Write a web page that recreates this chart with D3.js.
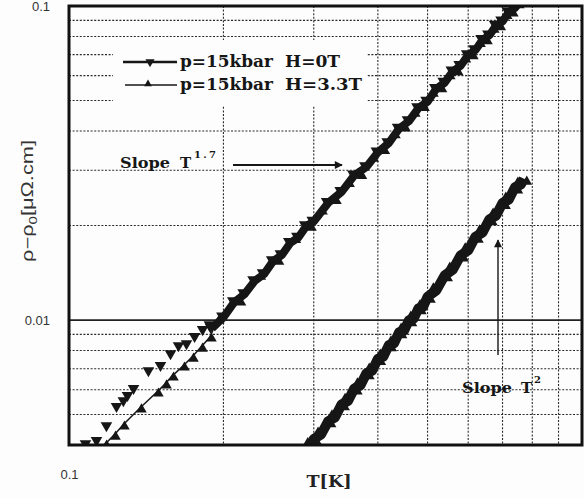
<!DOCTYPE html>
<html><head><meta charset="utf-8">
<script src="https://cdn.jsdelivr.net/npm/d3@7"></script>
<style>body{margin:0;background:#fff}</style>
</head><body><svg id="c" width="584" height="498"></svg>
<script>
// ---- data ----
const xTicks = [0.1];
const yTicks = [0.01, 0.1];
const gridX = [0.2, 0.3, 0.4, 0.5, 0.6, 0.7, 0.8, 0.9];
const gridY = [0.005, 0.006, 0.007, 0.008, 0.009, 0.02, 0.03, 0.04, 0.05, 0.06, 0.07, 0.08, 0.09];
const solidY = [0.01];

// p=15kbar H=0T (down triangles)
const tH0 = [0.1084,0.1139,0.1191,0.1246,0.1285,0.1309,0.1345,0.1438,0.1518,0.1588,0.1646,0.1706,0.1769,0.1834,0.1891,
  0.19,0.20,0.21,0.22,0.23,0.24,0.25,0.26,0.27,0.28,0.29,0.30,0.32,0.34,0.36,0.38,0.40,0.42,0.44,0.46,0.48,0.50,
  0.52,0.54,0.56,0.58,0.60,0.62,0.64,0.66,0.68,0.70,0.72,0.74,0.76];
const rH0 = [0.00400,0.00409,0.00456,0.00525,0.00548,0.00569,0.00599,0.00683,0.00709,0.00774,0.00820,0.00832,0.00877,0.00923,0.00957,
  0.0094,0.0102,0.0114,0.0121,0.0133,0.0140,0.0154,0.0161,0.0176,0.0183,0.0199,0.0206,0.0236,0.0256,0.0289,0.0307,0.0342,0.0366,0.0407,0.0430,0.0473,0.0496,
  0.0545,0.0570,0.0619,0.0645,0.0698,0.0724,0.0780,0.0807,0.0866,0.0893,0.0955,0.0985,0.104];

// p=15kbar H=3.3T (up triangles)
const tH33 = [0.1176,0.1224,0.1274,0.1375,0.1484,0.1539,0.1588,0.1668,0.1737,0.1809,0.1883,
  0.195,0.215,0.235,0.255,0.275,0.295,0.31,0.33,0.35,0.37,0.39,0.41,0.43,0.45,0.47,0.49,0.51,0.53,0.55,0.57,0.59,0.61,0.63,0.65,0.67,0.69,0.71,0.73,0.75];
const rH33 = [0.00403,0.00430,0.00463,0.00525,0.00590,0.00626,0.00663,0.00714,0.00762,0.00820,0.00883,
  0.0101,0.0115,0.0139,0.0155,0.0182,0.0199,0.0224,0.0242,0.0274,0.0291,0.0330,0.0349,0.0392,0.0412,0.0459,0.0479,0.0531,0.0549,0.0604,0.0622,0.0683,0.0700,0.0765,0.0781,0.0850,0.0866,0.0940,0.0957,0.1016];

// curve with slope T^2
const tQ = [0.296,0.30,0.31,0.32,0.33,0.34,0.35,0.36,0.37,0.38,0.39,0.40,0.41,0.42,0.43,0.44,0.45,0.46,0.47,0.48,0.49,0.50,
  0.52,0.54,0.56,0.58,0.60,0.62,0.64,0.66,0.68,0.70,0.72,0.74,0.76,0.77];
const rQ = [0.00400,0.00418,0.00432,0.00476,0.00490,0.00539,0.00553,0.00606,0.00620,0.00677,0.00690,0.00752,0.00765,0.00831,0.00843,0.00914,0.00925,0.00999,0.01011,0.01090,0.01100,0.01186,
  0.01243,0.01388,0.01447,0.01607,0.01666,0.01842,0.01901,0.02093,0.02151,0.02360,0.02418,0.02645,0.02701,0.02821];

const legendLabels = [["p=15kbar","H=0T"],["p=15kbar","H=3.3T"]];

// ---- drawing ----
const svg = d3.select("#c");
const L = 69, R = 582, TOP = 6, B = 445;
const x = d3.scaleLog().domain([0.1, 1]).range([L, R]);
const y = d3.scaleLog().domain([0.004, 0.1]).range([B, TOP]);
const ink = "#161616";

svg.append("rect").attr("width",584).attr("height",498).attr("fill","#fdfdfd");

const grid = svg.append("g").attr("stroke","#2a2a2a").attr("stroke-width",1.1).attr("stroke-dasharray","2,1.6");
grid.selectAll("line.gx").data(gridX).join("line").attr("class","gx")
  .attr("x1",d=>x(d)).attr("x2",d=>x(d)).attr("y1",TOP).attr("y2",B);
grid.selectAll("line.gy").data(gridY).join("line").attr("class","gy")
  .attr("x1",L).attr("x2",R).attr("y1",d=>y(d)).attr("y2",d=>y(d));
svg.selectAll("line.sy").data(solidY).join("line").attr("class","sy")
  .attr("x1",L).attr("x2",R).attr("y1",d=>y(d)).attr("y2",d=>y(d))
  .attr("stroke","#222").attr("stroke-width",1.8);

// legend background
svg.append("rect").attr("x",113).attr("y",40).attr("width",254).attr("height",66).attr("fill","#fdfdfd");

svg.append("clipPath").attr("id","clip").append("rect")
  .attr("x",L).attr("y",TOP).attr("width",R-L).attr("height",B-TOP);
const plot = svg.append("g").attr("clip-path","url(#clip)");

const line = d3.line().x(d=>x(d[0])).y(d=>y(d[1]));
const h0 = tH0.map((t,i)=>[t,rH0[i]]);
const h33 = tH33.map((t,i)=>[t,rH33[i]]);
const q = tQ.map((t,i)=>[t,rQ[i]]);

const down = d3.symbol().type(d3.symbolTriangle).size(58)();
const up = d3.symbol().type(d3.symbolTriangle).size(48)();
const legDown = d3.symbol().type(d3.symbolTriangle).size(36)();
const legUp = d3.symbol().type(d3.symbolTriangle).size(26)();

// T^2 curve
plot.append("path").datum(q).attr("d",line).attr("fill","none").attr("stroke",ink).attr("stroke-width",10).attr("stroke-linejoin","round");
plot.selectAll("path.q").data(q).join("path").attr("class","q").attr("d",up)
  .attr("transform",(d,i)=>`translate(${x(d[0])+(i%2?3:-3)},${y(d[1])+(i%2?3:-2)})`).attr("fill",ink);

// H=3.3T
plot.append("path").datum(h33).attr("d",line).attr("fill","none").attr("stroke",ink).attr("stroke-width",1.5);
plot.selectAll("path.m33").data(h33).join("path").attr("class","m33").attr("d",up)
  .attr("transform",d=>`translate(${x(d[0])+1.5},${y(d[1])+1.5})`).attr("fill",ink);

// H=0T
plot.append("path").datum(h0.filter(d=>d[0]>=0.19)).attr("d",line).attr("fill","none").attr("stroke",ink).attr("stroke-width",8).attr("stroke-linejoin","round");
plot.selectAll("path.m0").data(h0).join("path").attr("class","m0").attr("d",down)
  .attr("transform",d=>`translate(${x(d[0])-1.5},${y(d[1])-1.5}) rotate(180)`).attr("fill",ink);

// frame
svg.append("rect").attr("x",L).attr("y",TOP).attr("width",R-L).attr("height",B-TOP)
  .attr("fill","none").attr("stroke","#111").attr("stroke-width",3);

// axes tick labels
const yAx = svg.append("g").attr("transform",`translate(${L},0)`)
  .call(d3.axisLeft(y).tickValues(yTicks).tickSize(0).tickPadding(19).tickFormat(d=>d===0.1?"0.1":"0.01"));
const xAx = svg.append("g").attr("transform",`translate(0,${B})`)
  .call(d3.axisBottom(x).tickValues(xTicks).tickSize(0).tickPadding(25).tickFormat(()=> "0.1"));
[yAx,xAx].forEach(a=>{a.select(".domain").remove();
  a.selectAll("text").attr("font-family","Liberation Sans, Arial, sans-serif").attr("font-size",13).attr("fill","#333");});

// axis titles
const serif = "DejaVu Serif, serif";
svg.append("text").attr("x",329).attr("y",487).attr("text-anchor","middle")
  .attr("font-family",serif).attr("font-weight","bold").attr("font-size",16).attr("fill","#222")
  .attr("textLength",45).attr("lengthAdjust","spacingAndGlyphs").text("T[K]");
const yl = svg.append("text").attr("transform","translate(33,140) rotate(-90)").attr("text-anchor","end")
  .attr("font-family","Liberation Sans, Arial, sans-serif").attr("font-size",16).attr("fill","#333")
  .attr("textLength",122).attr("lengthAdjust","spacingAndGlyphs");
yl.append("tspan").text("ρ−ρ");
yl.append("tspan").attr("dy",4).attr("font-size",11).text("0");
yl.append("tspan").attr("dy",-4).text("[μΩ.cm]");

// legend
const lg = svg.append("g");
lg.append("line").attr("x1",123).attr("x2",177).attr("y1",62).attr("y2",62).attr("stroke",ink).attr("stroke-width",2.6);
lg.append("path").attr("d",legDown).attr("transform","translate(150,62) rotate(180)").attr("fill",ink);
lg.append("line").attr("x1",125).attr("x2",177).attr("y1",85).attr("y2",85).attr("stroke",ink).attr("stroke-width",1.3);
lg.append("path").attr("d",legUp).attr("transform","translate(148,84)").attr("fill",ink);
legendLabels.forEach((lab,i)=>{
  const yy = 67 + i*23;
  lg.append("text").attr("x",180).attr("y",yy).attr("font-family",serif).attr("font-weight","bold").attr("font-size",16)
    .attr("fill",ink).attr("textLength",93).attr("lengthAdjust","spacingAndGlyphs").text(lab[0]);
  lg.append("text").attr("x",285).attr("y",yy).attr("font-family",serif).attr("font-weight","bold").attr("font-size",16)
    .attr("fill",ink).attr("textLength",i===0?55:77).attr("lengthAdjust","spacingAndGlyphs").text(lab[1]);
});

// annotations
const ann = svg.append("g").attr("font-family",serif).attr("font-weight","bold").attr("fill",ink);
ann.append("text").attr("x",120).attr("y",168).attr("font-size",15).attr("textLength",50).attr("lengthAdjust","spacingAndGlyphs").text("Slope");
ann.append("text").attr("x",180).attr("y",168).attr("font-size",15).text("T");
ann.append("text").attr("x",194).attr("y",158).attr("font-size",10).attr("textLength",22).attr("lengthAdjust","spacing").text("1.7");
ann.append("text").attr("x",462).attr("y",393).attr("font-size",15).attr("textLength",50).attr("lengthAdjust","spacingAndGlyphs").text("Slope");
ann.append("text").attr("x",521).attr("y",393).attr("font-size",15).text("T");
ann.append("text").attr("x",534).attr("y",383).attr("font-size",10).text("2");

svg.append("defs").append("marker").attr("id","ah").attr("viewBox","0 0 10 10").attr("refX",9).attr("refY",5)
  .attr("markerWidth",10).attr("markerHeight",8).attr("markerUnits","userSpaceOnUse").attr("orient","auto")
  .append("path").attr("d","M0,0 L10,5 L0,10 z").attr("fill",ink);
svg.append("line").attr("x1",233).attr("x2",342).attr("y1",165).attr("y2",165).attr("stroke",ink).attr("stroke-width",1.8).attr("marker-end","url(#ah)");
svg.append("line").attr("x1",498).attr("x2",498).attr("y1",355).attr("y2",240).attr("stroke",ink).attr("stroke-width",1.4).attr("marker-end","url(#ah)");
</script></body></html>
